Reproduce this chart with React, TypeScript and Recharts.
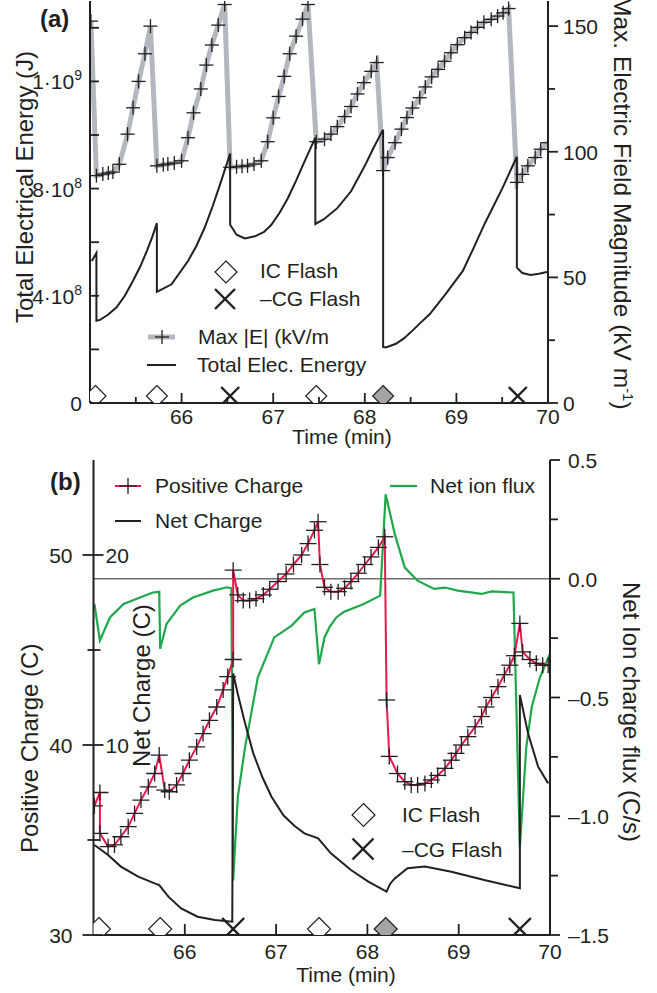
import React from "react";
import { ComposedChart, Line, Scatter, XAxis, YAxis, ReferenceLine } from "recharts";

const FONT = '"Liberation Sans", Arial, Helvetica, sans-serif';
const INK = "#231f20";
const GRAY_LINE = "#b3b8be";
const RED = "#e8184d";
const GREEN = "#1fa74c";

// ---------- panel (a) ----------
const timeTicksA = [65.5, 66, 66.5, 67, 67.5, 68, 68.5, 69, 69.5, 70];
const energyTicks = [0, 2, 4, 6, 8, 10, 12, 14];
const energyTickLabels = ["0", "", "4·10^8", "", "8·10^8", "", "1·10^9", ""];
const fieldTicks = [0, 25, 50, 75, 100, 125, 150];
const fieldTickLabels = ["0", "", "50", "", "100", "", "150"];

// [time (min), max |E| (kV/m)]
const maxField: [number, number][] = [
  [65.01, 152], [65.07, 90.5], [65.14, 91.1], [65.2, 91.5], [65.25, 91.9], [65.32, 95],
  [65.41, 107], [65.47, 117.5], [65.53, 128], [65.6, 139], [65.66, 150],
  [65.73, 94.4], [65.8, 94.8], [65.85, 95.1], [65.92, 95.5], [66.0, 96.4], [66.07, 105.6],
  [66.13, 115.5], [66.21, 125], [66.27, 134.5], [66.33, 142.5], [66.4, 150.4], [66.47, 158.6],
  [66.53, 93.8], [66.6, 94], [66.66, 94.2], [66.72, 94.4], [66.79, 95.1], [66.87, 96.4],
  [66.94, 104], [67.0, 113.5], [67.06, 122], [67.12, 130], [67.18, 139], [67.25, 146],
  [67.32, 152.8], [67.38, 158.6],
  [67.47, 104], [67.56, 105], [67.63, 107], [67.7, 110], [67.78, 114], [67.85, 118],
  [67.92, 123], [67.99, 127.5], [68.07, 132], [68.13, 135.5],
  [68.2, 92.5], [68.25, 97.7], [68.33, 103.6], [68.4, 109], [68.46, 113.6], [68.52, 117.4],
  [68.6, 121.5], [68.66, 125.8], [68.73, 129.8], [68.8, 132.8], [68.87, 136], [68.94, 139.4],
  [69.01, 142.6], [69.09, 145.4], [69.16, 147.5], [69.23, 149.5], [69.3, 151.5], [69.38, 152.7],
  [69.45, 154], [69.51, 155.3], [69.57, 157],
  [69.66, 87.8], [69.72, 91], [69.78, 94.4], [69.86, 97.7], [69.92, 101], [70.0, 103.6],
];

// [time (min), total electrical energy (10^8 J)]
const elecEnergy: [number, number][] = [
  [65.02, 5.3], [65.07, 5.6], [65.07, 3.07], [65.11, 3.1], [65.2, 3.3], [65.29, 3.57],
  [65.38, 4.0], [65.47, 4.56], [65.55, 5.1], [65.62, 5.67], [65.68, 6.2], [65.73, 6.71],
  [65.73, 4.15], [65.89, 4.43], [66.07, 5.3], [66.16, 5.85], [66.25, 6.53], [66.34, 7.35],
  [66.43, 8.26], [66.53, 9.31],
  [66.53, 6.65], [66.6, 6.28], [66.69, 6.14], [66.8, 6.22], [66.9, 6.38], [66.98, 6.65],
  [67.07, 7.1], [67.16, 7.64], [67.25, 8.3], [67.34, 9.0], [67.46, 9.9],
  [67.46, 6.68], [67.55, 6.85], [67.7, 7.27], [67.85, 7.9], [68.0, 8.85], [68.1, 9.55], [68.2, 10.2],
  [68.2, 2.09], [68.23, 2.07], [68.34, 2.21], [68.43, 2.42], [68.52, 2.7], [68.61, 3.0],
  [68.71, 3.32], [68.89, 4.1], [69.07, 4.93], [69.19, 5.8], [69.31, 6.7], [69.5, 8.0], [69.66, 9.19],
  [69.66, 5.05], [69.72, 4.85], [69.81, 4.78], [69.9, 4.82], [70.0, 4.9],
];

// flashes (same times in both panels)
const flashTimes = [65.06, 65.73, 66.53, 67.47, 68.2, 69.67];
const flashKinds = ["ic", "ic", "cg", "ic", "ic2", "cg"];

// ---------- panel (b) ----------
const timeTicksB = [66, 67, 68, 69, 70];
const posTicks = [30, 35, 40, 45, 50];
const posTickLabels = ["30", "", "40", "", "50"];
const netTickLabels = ["", "", "10", "", "20"];
const fluxTicks = [-1.5, -1.25, -1, -0.75, -0.5, -0.25, 0, 0.25, 0.5];
const fluxTickLabels = ["–1.5", "", "–1.0", "", "–0.5", "", "0.0", "", "0.5"];

// [time (min), positive charge (C)]
const positiveCharge: [number, number][] = [
  [65.01, 36.8], [65.07, 37.5], [65.07, 35.35], [65.16, 34.65], [65.23, 34.74], [65.3, 35.17],
  [65.38, 35.7], [65.45, 36.4], [65.52, 37.1], [65.6, 37.8], [65.67, 38.5], [65.72, 39.47],
  [65.78, 37.63], [65.83, 37.54], [65.91, 37.9], [65.98, 38.5], [66.05, 39.2], [66.13, 39.9],
  [66.2, 40.6], [66.27, 41.3], [66.35, 42.0], [66.42, 42.9], [66.47, 43.6], [66.53, 44.5],
  [66.53, 49.2], [66.58, 47.9], [66.64, 47.6], [66.71, 47.6], [66.78, 47.7], [66.86, 47.9],
  [66.93, 48.2], [67.02, 48.6], [67.11, 49.0], [67.19, 49.5], [67.28, 50.0], [67.35, 50.6],
  [67.42, 51.3], [67.46, 51.75],
  [67.48, 49.5], [67.53, 48.3], [67.6, 48.07], [67.68, 48.07], [67.75, 48.25], [67.82, 48.6],
  [67.9, 49.04], [67.97, 49.5], [68.04, 49.9], [68.12, 50.4], [68.19, 50.96],
  [68.21, 42.37], [68.24, 39.4], [68.33, 38.5], [68.41, 38.07], [68.48, 37.9], [68.55, 37.9],
  [68.63, 37.98], [68.7, 38.16], [68.77, 38.4], [68.85, 38.77], [68.92, 39.2], [68.97, 39.56],
  [69.03, 40.0], [69.1, 40.44], [69.18, 40.96], [69.25, 41.5], [69.3, 42.0], [69.36, 42.5],
  [69.43, 43.07], [69.5, 43.7], [69.56, 44.2], [69.61, 44.7], [69.67, 46.4], [69.7, 44.9],
  [69.78, 44.5], [69.85, 44.3], [69.92, 44.2], [69.98, 44.2],
];

// [time (min), net charge (C)]
const netCharge: [number, number][] = [
  [65.01, 4.74], [65.16, 4.21], [65.3, 3.6], [65.49, 3.07], [65.67, 2.72], [65.72, 2.63],
  [65.82, 2.02], [65.96, 1.4], [66.14, 0.96], [66.33, 0.79], [66.52, 0.7],
  [66.53, 13.77], [66.58, 12.7], [66.66, 11.14], [66.75, 9.56], [66.85, 8.3], [66.95, 7.28],
  [67.08, 6.3], [67.2, 5.75], [67.31, 5.35], [67.46, 5.09],
  [67.6, 4.3], [67.82, 3.42], [68.01, 2.81], [68.21, 2.28], [68.25, 2.7], [68.3, 2.98],
  [68.44, 3.51], [68.63, 3.6], [68.92, 3.33], [69.28, 2.89], [69.67, 2.46],
  [69.67, 12.63], [69.76, 10.6], [69.87, 8.86], [69.98, 7.98],
];

// [time (min), net ion charge flux (C/s)]
const ionFlux: [number, number][] = [
  [65.01, -0.106], [65.07, -0.26], [65.18, -0.163], [65.33, -0.106], [65.51, -0.079],
  [65.65, -0.058], [65.72, -0.055],
  [65.73, -0.295], [65.8, -0.19], [65.95, -0.113], [66.09, -0.079], [66.31, -0.05],
  [66.46, -0.036], [66.51, -0.04],
  [66.53, -1.27], [66.58, -0.92], [66.66, -0.71], [66.8, -0.415], [66.98, -0.247],
  [67.17, -0.197], [67.31, -0.142], [67.42, -0.127],
  [67.47, -0.36], [67.53, -0.247], [67.59, -0.2], [67.66, -0.163], [67.74, -0.14],
  [67.96, -0.106], [68.14, -0.071],
  [68.2, 0.356], [68.3, 0.188], [68.41, 0.047], [68.55, -0.008], [68.73, -0.043],
  [68.85, -0.037], [68.99, -0.05], [69.25, -0.064], [69.36, -0.053], [69.6, -0.058],
  [69.67, -1.13], [69.74, -0.71], [69.8, -0.54], [69.89, -0.415], [70.0, -0.316],
];

const toPts = (arr: [number, number][]) => arr.map(([t, v]) => ({ t, v }));
const flashPts = flashTimes.map((t, i) => ({ t, y: 0, kind: flashKinds[i] }));
const flashPtsB = flashTimes.map((t, i) => ({ t, y: 30, kind: flashKinds[i] }));

const pickLabel = (ticks: number[], labels: string[], v: number) => {
  const i = ticks.findIndex((k) => Math.abs(k - v) < 1e-9);
  return i < 0 ? "" : labels[i];
};

// label like "4·10^8" -> base + superscript
const SupLabel = ({ x, y, label, anchor }: any) => {
  const [base, sup] = label.split("^");
  return (
    <text x={x} y={y} textAnchor={anchor} fontSize={21} fill={INK} fontFamily={FONT}>
      {base}
      {sup && (
        <tspan dy={-9} fontSize={14}>
          {sup}
        </tspan>
      )}
    </text>
  );
};

const Plus = ({ cx, cy, hw, hh }: any) =>
  cx == null || cy == null ? (
    <g />
  ) : (
    <g>
      <line x1={cx - hw} x2={cx + hw} y1={cy} y2={cy} stroke={INK} strokeWidth={1.3} />
      <line x1={cx} x2={cx} y1={cy - hh} y2={cy + hh} stroke={INK} strokeWidth={1.3} />
    </g>
  );

const Diamond = ({ cx, cy, h, fill }: any) => (
  <polygon
    points={`${cx},${cy - h} ${cx + h},${cy} ${cx},${cy + h} ${cx - h},${cy}`}
    fill={fill}
    stroke={INK}
    strokeWidth={1.2}
  />
);

const Cross = ({ cx, cy, h }: any) => (
  <g stroke={INK} strokeWidth={2.4}>
    <line x1={cx - h} y1={cy - h} x2={cx + h} y2={cy + h} />
    <line x1={cx - h} y1={cy + h} x2={cx + h} y2={cy - h} />
  </g>
);

const FlashMark = ({ cx, cy, payload, big }: any) => {
  const dy = big ? -6 : -7;
  const h = big ? 11.5 : 10.5;
  if (payload.kind === "cg") return <Cross cx={cx} cy={cy + dy} h={big ? 11 : 9} />;
  return <Diamond cx={cx} cy={cy + dy} h={h} fill={payload.kind === "ic2" ? "#a3a4a6" : "#fff"} />;
};

// ---------- tick renderers ----------
const BottomTickA = ({ x, y, payload }: any) => {
  const v = payload.value;
  const major = Number.isInteger(v);
  return (
    <g>
      <line x1={x} x2={x} y1={y} y2={y - (major ? 10 : 6)} stroke={INK} strokeWidth={1.8} />
      {major && (
        <text x={x} y={y + 21} textAnchor="middle" fontSize={21} fill={INK} fontFamily={FONT}>
          {v}
        </text>
      )}
    </g>
  );
};

const TopTick = ({ x, y, len }: any) => (
  <line x1={x} x2={x} y1={y} y2={y + len} stroke={INK} strokeWidth={1.8} />
);

const LeftTickA = ({ x, y, payload }: any) => {
  const lab = pickLabel(energyTicks, energyTickLabels, payload.value);
  return (
    <g>
      <line x1={x} x2={x + 9} y1={y} y2={y} stroke={INK} strokeWidth={1.8} />
      {lab && <SupLabel x={x - 8} y={y + 8} label={lab} anchor="end" />}
    </g>
  );
};

const RightTickA = ({ x, y, payload }: any) => {
  const lab = pickLabel(fieldTicks, fieldTickLabels, payload.value);
  return (
    <g>
      <line x1={x} x2={x + (lab ? 10 : 7)} y1={y} y2={y} stroke={INK} strokeWidth={1.8} />
      {lab && (
        <text x={x + 15} y={y + 8} fontSize={21} fill={INK} fontFamily={FONT}>
          {lab}
        </text>
      )}
    </g>
  );
};

const BottomTickB = ({ x, y, payload }: any) => (
  <g>
    <line x1={x} x2={x} y1={y} y2={y - 11} stroke={INK} strokeWidth={1.8} />
    <text x={x} y={y + 24} textAnchor="middle" fontSize={21} fill={INK} fontFamily={FONT}>
      {payload.value}
    </text>
  </g>
);

const LeftTickB = ({ x, y, payload }: any) => {
  const lab = pickLabel(posTicks, posTickLabels, payload.value);
  const netLab = pickLabel(posTicks, netTickLabels, payload.value);
  return (
    <g>
      <line x1={x - (lab ? 11 : 6)} x2={x + (lab ? 10 : 7)} y1={y} y2={y} stroke={INK} strokeWidth={1.8} />
      {lab && (
        <text x={x - 21} y={y + 8} textAnchor="end" fontSize={21} fill={INK} fontFamily={FONT}>
          {lab}
        </text>
      )}
      {netLab && (
        <text x={x + 12} y={y + 8} fontSize={21} fill={INK} fontFamily={FONT}>
          {netLab}
        </text>
      )}
    </g>
  );
};

const RightTickB = ({ x, y, payload }: any) => {
  const lab = pickLabel(fluxTicks, fluxTickLabels, payload.value);
  return (
    <g>
      <line x1={x} x2={x + (lab ? 10 : 8)} y1={y} y2={y} stroke={INK} strokeWidth={1.8} />
      {lab && (
        <text x={x + 18} y={y + 8} fontSize={21} fill={INK} fontFamily={FONT}>
          {lab}
        </text>
      )}
    </g>
  );
};

const axisLine = { stroke: INK, strokeWidth: 2 };

function PanelA() {
  return (
    <ComposedChart width={657} height={445} margin={{ top: 1, right: 49, bottom: 12, left: 30 }}>
      <XAxis
        xAxisId="b"
        type="number"
        dataKey="t"
        domain={[65, 70]}
        allowDataOverflow
        ticks={timeTicksA}
        interval={0}
        height={30}
        tickSize={0}
        tickMargin={0}
        tickLine={false}
        axisLine={axisLine}
        tick={(p: any) => <BottomTickA {...p} />}
      />
      <XAxis
        xAxisId="top"
        orientation="top"
        type="number"
        dataKey="t"
        domain={[65, 70]}
        allowDataOverflow
        ticks={timeTicksA}
        interval={0}
        height={0}
        tickSize={0}
        tickMargin={0}
        tickLine={false}
        axisLine={axisLine}
        tick={(p: any) => <TopTick {...p} len={10} />}
      />
      <YAxis
        yAxisId="en"
        type="number"
        domain={[0, 15]}
        allowDataOverflow
        ticks={energyTicks}
        interval={0}
        width={60}
        tickSize={0}
        tickMargin={0}
        tickLine={false}
        axisLine={axisLine}
        tick={(p: any) => <LeftTickA {...p} />}
      />
      <YAxis
        yAxisId="E"
        orientation="right"
        type="number"
        domain={[0, 160]}
        allowDataOverflow
        ticks={fieldTicks}
        interval={0}
        width={60}
        tickSize={0}
        tickMargin={0}
        tickLine={false}
        axisLine={axisLine}
        tick={(p: any) => <RightTickA {...p} />}
      />
      <Line
        xAxisId="b"
        yAxisId="E"
        data={toPts(maxField)}
        dataKey="v"
        type="linear"
        stroke={GRAY_LINE}
        strokeWidth={5}
        isAnimationActive={false}
        activeDot={false}
        dot={(p: any) => <Plus key={`e${p.index}`} cx={p.cx} cy={p.cy} hw={7} hh={7} />}
      />
      <Line
        xAxisId="b"
        yAxisId="en"
        data={toPts(elecEnergy)}
        dataKey="v"
        type="linear"
        stroke={INK}
        strokeWidth={2}
        dot={false}
        activeDot={false}
        isAnimationActive={false}
      />
      <Scatter
        xAxisId="b"
        yAxisId="en"
        data={flashPts}
        dataKey="y"
        isAnimationActive={false}
        shape={(p: any) => <FlashMark {...p} />}
      />
    </ComposedChart>
  );
}

function PanelB() {
  return (
    <ComposedChart width={657} height={548} margin={{ top: 15, right: 47, bottom: 18, left: 33.5 }}>
      <XAxis
        xAxisId="b"
        type="number"
        dataKey="t"
        domain={[65, 70]}
        allowDataOverflow
        ticks={timeTicksB}
        interval={0}
        height={40}
        tickSize={0}
        tickMargin={0}
        tickLine={false}
        axisLine={axisLine}
        tick={(p: any) => <BottomTickB {...p} />}
      />
      <XAxis
        xAxisId="top"
        orientation="top"
        type="number"
        dataKey="t"
        domain={[65, 70]}
        allowDataOverflow
        ticks={timeTicksB}
        interval={0}
        height={0}
        tickSize={0}
        tickMargin={0}
        tickLine={false}
        axisLine={axisLine}
        tick={(p: any) => <TopTick {...p} len={10} />}
      />
      <YAxis
        yAxisId="pos"
        type="number"
        domain={[30, 55]}
        allowDataOverflow
        ticks={posTicks}
        interval={0}
        width={60}
        tickSize={0}
        tickMargin={0}
        tickLine={false}
        axisLine={axisLine}
        tick={(p: any) => <LeftTickB {...p} />}
      />
      <YAxis yAxisId="net" type="number" domain={[0, 25]} allowDataOverflow hide width={0} />
      <YAxis
        yAxisId="flux"
        orientation="right"
        type="number"
        domain={[-1.5, 0.5]}
        allowDataOverflow
        ticks={fluxTicks}
        interval={0}
        width={60}
        tickSize={0}
        tickMargin={0}
        tickLine={false}
        axisLine={axisLine}
        tick={(p: any) => <RightTickB {...p} />}
      />
      <ReferenceLine xAxisId="b" yAxisId="flux" y={0} stroke="#6d6e71" strokeWidth={1.3} />
      <Line
        xAxisId="b"
        yAxisId="flux"
        data={toPts(ionFlux)}
        dataKey="v"
        type="linear"
        stroke={GREEN}
        strokeWidth={2.2}
        dot={false}
        activeDot={false}
        isAnimationActive={false}
      />
      <Line
        xAxisId="b"
        yAxisId="net"
        data={toPts(netCharge)}
        dataKey="v"
        type="linear"
        stroke={INK}
        strokeWidth={2}
        dot={false}
        activeDot={false}
        isAnimationActive={false}
      />
      <Line
        xAxisId="b"
        yAxisId="pos"
        data={toPts(positiveCharge)}
        dataKey="v"
        type="linear"
        stroke={RED}
        strokeWidth={2}
        isAnimationActive={false}
        activeDot={false}
        dot={(p: any) => <Plus key={`p${p.index}`} cx={p.cx} cy={p.cy} hw={8.5} hh={8} />}
      />
      <Scatter
        xAxisId="b"
        yAxisId="pos"
        data={flashPtsB}
        dataKey="y"
        isAnimationActive={false}
        shape={(p: any) => <FlashMark {...p} big />}
      />
    </ComposedChart>
  );
}

const T = ({ children, ...rest }: any) => (
  <text fontFamily={FONT} fill={INK} fontSize={21} {...rest}>
    {children}
  </text>
);

function Overlay() {
  return (
    <svg
      width={657}
      height={993}
      style={{ position: "absolute", left: 0, top: 0, pointerEvents: "none" }}
    >
      {/* panel labels */}
      <T x={40} y={27} fontSize={24} fontWeight="bold">(a)</T>
      <T x={50} y={490} fontSize={24} fontWeight="bold">(b)</T>

      {/* panel (a) titles */}
      <T transform="translate(33,323) rotate(-90)" fontSize={24}>Total Electrical Energy (J)</T>
      <T transform="translate(614,-4) rotate(90)" fontSize={24.5}>
        Max. Electric Field Magnitude (kV m
        <tspan dy={-9} fontSize={15}>-1</tspan>
        <tspan dy={9}>)</tspan>
      </T>
      <T x={342} y={444} textAnchor="middle">Time (min)</T>

      {/* panel (a) legend */}
      <Diamond cx={226} cy={272} h={11} fill="#fff" />
      <T x={260} y={278}>IC Flash</T>
      <Cross cx={225} cy={299} h={10} />
      <T x={260} y={306}>–CG Flash</T>
      <line x1={148} x2={175} y1={337} y2={337} stroke={GRAY_LINE} strokeWidth={5} />
      <Plus cx={162} cy={337} hw={7} hh={7} />
      <T x={198} y={344}>Max |E| (kV/m</T>
      <line x1={147} x2={176} y1={365} y2={365} stroke={INK} strokeWidth={2} />
      <T x={197} y={372}>Total Elec. Energy</T>

      {/* panel (b) titles */}
      <T transform="translate(38,853) rotate(-90)" fontSize={24}>Positive Charge (C)</T>
      <T transform="translate(150,767) rotate(-90)" fontSize={24}>Net Charge (C)</T>
      <T transform="translate(623,582) rotate(90)" fontSize={24}>Net Ion charge flux (C/s)</T>
      <T x={346} y={982} textAnchor="middle">Time (min)</T>

      {/* panel (b) legend */}
      <line x1={115} x2={141} y1={486} y2={486} stroke={RED} strokeWidth={2} />
      <Plus cx={128} cy={486} hw={8.5} hh={8} />
      <T x={155} y={493}>Positive Charge</T>
      <line x1={115} x2={141} y1={521} y2={521} stroke={INK} strokeWidth={2} />
      <T x={155} y={528}>Net Charge</T>
      <line x1={390} x2={417} y1={486} y2={486} stroke={GREEN} strokeWidth={2.2} />
      <T x={430} y={493}>Net ion flux</T>
      <Diamond cx={363.5} cy={815} h={11.5} fill="#fff" />
      <T x={402} y={822}>IC Flash</T>
      <Cross cx={363} cy={849} h={10.5} />
      <T x={402} y={857}>–CG Flash</T>
    </svg>
  );
}

export default function App() {
  return (
    <div
      style={{
        position: "absolute",
        left: 0,
        top: 0,
        width: 657,
        height: 993,
        background: "#fff",
        fontFamily: FONT,
        overflow: "hidden",
      }}
    >
      <div style={{ position: "absolute", left: 0, top: 0 }}>
        <PanelA />
      </div>
      <div style={{ position: "absolute", left: 0, top: 445 }}>
        <PanelB />
      </div>
      <Overlay />
    </div>
  );
}
